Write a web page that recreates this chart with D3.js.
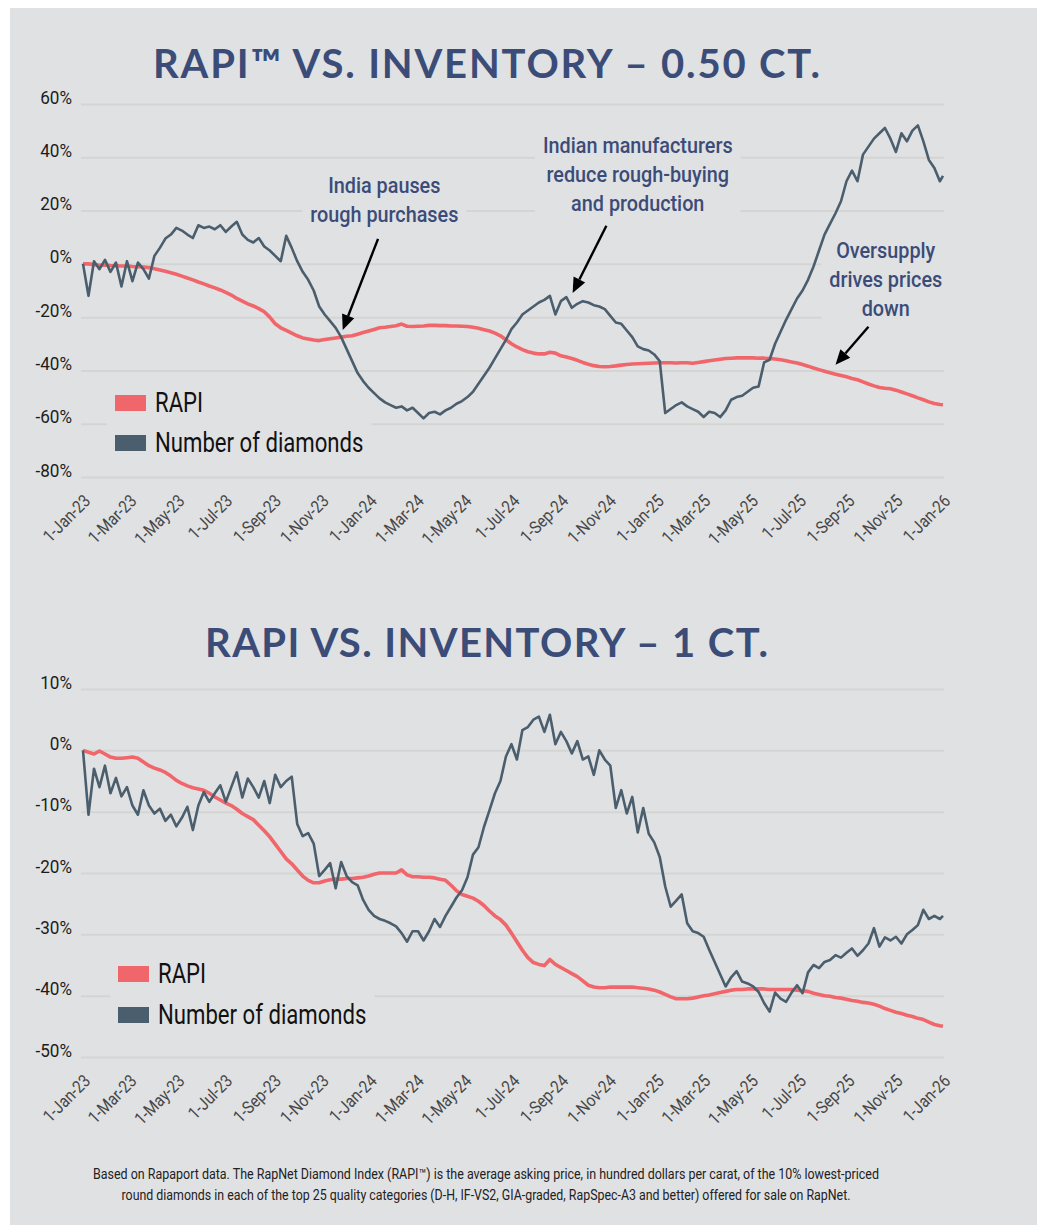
<!DOCTYPE html>
<html>
<head>
<meta charset="utf-8">
<title>RAPI vs. Inventory</title>
<script src="https://cdn.jsdelivr.net/npm/d3@7"></script>
<style>
  body { margin: 0; background: #fff; }
  .narrow { font-family: 'Roboto', 'Liberation Sans', sans-serif; }
  .title { font-family: 'Lato', 'Open Sans', sans-serif; font-weight: 700; fill: #3b4c78; }
  .note { fill: #3b4c78; font-weight: 500; }
</style>
</head>
<body>
<svg id="chart" width="1037" height="1225"></svg>
<script>
// weekly readings, 1-Jan-23 to 28-Dec-25, plus 1-Jan-26
var startDate = new Date(2023, 0, 1), endDate = new Date(2026, 0, 1);
var dates = d3.range(157).map(function(i) { return d3.timeDay.offset(startDate, i * 7); }).concat([endDate]);

// 0.50 ct, % change
var inv50 = [
  0, -12, 1, -2, 1.5, -3, 0.5, -8.5, 1, -6.5,
  0.5, -2, -5.5, 3, 6, 9.5, 11, 13.5, 12.5, 11,
  9.7, 14.5, 13.5, 14, 13, 14.5, 12, 14, 15.8, 11,
  9, 8, 9.7, 6.5, 5, 3, 1, 10.5, 6, 1,
  -3, -6, -10, -16, -19, -21.5, -24, -27.5, -32, -36.5,
  -41, -44, -46.5, -48.5, -50.5, -52, -53, -54, -53.5, -55,
  -54, -56, -58, -56, -55.5, -56.5, -55, -54, -52.5, -51.5,
  -50, -48, -45, -42, -39, -35.5, -32, -28.5, -24.5, -22,
  -19, -17.5, -16, -14.5, -13.5, -12, -19, -14, -12.5, -16.5,
  -15, -14, -14.5, -15.5, -16, -17, -19.5, -22, -22.5, -25,
  -27.5, -31, -32, -32.5, -34, -36.5, -56, -54.5, -53, -52,
  -53.5, -54.5, -55.5, -57.5, -55.5, -56, -57.5, -55, -51, -50,
  -49.5, -48, -46.5, -46, -37, -36, -30, -25.5, -21, -17,
  -13, -10, -6, -1, 5, 11, 15, 19, 23.5, 31,
  35, 31, 41, 44, 47, 49, 51, 47, 42, 49,
  46, 50, 52, 46, 39, 36, 31, 33
];
var rapi50 = [
  0, 0, -0.3, -0.5, -0.4, -0.6, -0.7, -0.8, -0.8, -1,
  -1.1, -1.2, -1.4, -1.8, -2.3, -2.8, -3.3, -3.9, -4.6, -5.3,
  -6, -6.8, -7.5, -8.3, -9, -9.8, -10.7, -11.7, -13, -14,
  -15, -15.8, -16.8, -18, -20, -22.5, -24, -25, -26, -27,
  -27.8, -28.2, -28.6, -28.8, -28.4, -28.1, -27.8, -27.5, -27.2, -27,
  -26.4, -25.8, -25.2, -24.6, -24, -23.8, -23.5, -23.2, -22.6, -23.4,
  -23.5, -23.4, -23.3, -23.1, -23.1, -23.2, -23.2, -23.3, -23.3, -23.4,
  -23.5, -23.8, -24.2, -24.7, -25.2, -26, -27, -28.5, -30, -31.2,
  -32.2, -33, -33.5, -33.8, -33.8, -33.2, -33.5, -34.5, -35, -35.5,
  -36.2, -37, -37.7, -38.2, -38.5, -38.6, -38.5, -38.3, -38, -37.8,
  -37.6, -37.5, -37.4, -37.3, -37.2, -37.1, -37.1, -37.1, -37.2, -37.1,
  -37.1, -37.3, -37, -36.7, -36.4, -36.1, -35.8, -35.5, -35.4, -35.3,
  -35.3, -35.3, -35.3, -35.4, -35.4, -35.5, -35.7, -36, -36.4, -36.8,
  -37.2, -37.8, -38.4, -39.1, -39.7, -40.3, -40.9, -41.4, -41.9, -42.4,
  -43, -43.5, -44.3, -45.1, -45.8, -46.4, -46.7, -46.9, -47.4, -48.1,
  -48.8, -49.5, -50.3, -51, -51.8, -52.4, -52.8, -52.9
];

// 1 ct, % change
var inv1 = [
  0, -10.5, -3, -6, -2.5, -7, -4.5, -7.5, -6, -9,
  -10.5, -6.5, -9, -10.3, -9.5, -11.5, -10.5, -12.4, -11, -9.2,
  -13, -9, -6.8, -8.4, -7, -5.7, -8.4, -6, -3.6, -7.7,
  -4.6, -6, -7.7, -5, -8.6, -4, -6, -5, -4.3, -12,
  -14, -13.5, -15.2, -20.5, -19.5, -18.4, -22.5, -18.2, -20.5, -21.5,
  -22, -24.4, -26, -27, -27.5, -27.8, -28.2, -28.7, -29.8, -31.2,
  -29.5, -29.5, -31, -29.5, -27.5, -28.8, -27, -25.5, -24, -22.8,
  -20.7, -17, -15.8, -12.5, -9.8, -7, -5, -1, 1, -1.5,
  3.3, 3.8, 5, 5.5, 3, 5.8, 1, 3, 1.5, -0.5,
  1.5, -1.5, -1, -4, 0, -1.5, -2.5, -9.4, -6.5, -10.3,
  -7.6, -13.4, -9.4, -13.6, -15, -17.4, -22.2, -25.5, -24.5, -23.5,
  -28.2, -29.5, -29.8, -30.4, -32.5, -34.5, -36.5, -38.5, -37, -36,
  -37.7, -38, -38.5, -39.4, -41.2, -42.6, -39.5, -40.5, -41, -39.5,
  -38.3, -39.6, -36.2, -35, -35.5, -34.5, -34.2, -33.4, -33.8, -33,
  -32.3, -33.5, -32.6, -31.5, -29, -32, -30.5, -31, -30.4, -31.5,
  -30, -29.3, -28.5, -26, -27.5, -27, -27.5, -27
];
var rapi1 = [
  0, -0.3, -0.6, -0.1, -0.6, -1.1, -1.3, -1.3, -1.2, -1.1,
  -1.3, -1.9, -2.5, -2.9, -3.2, -3.6, -4.2, -4.9, -5.4, -5.8,
  -6.1, -6.3, -6.5, -7, -7.6, -8.1, -8.6, -9, -9.6, -10.3,
  -10.8, -11.3, -12.2, -13.1, -14.1, -15.3, -16.5, -17.7, -18.5, -19.5,
  -20.5, -21.2, -21.6, -21.6, -21.3, -21.1, -21, -21, -20.9, -20.9,
  -20.8, -20.7, -20.5, -20.2, -20, -20, -20, -20, -19.5, -20.3,
  -20.6, -20.6, -20.7, -20.7, -20.8, -21, -21.2, -22, -22.9, -23.5,
  -23.8, -24.1, -24.6, -25.3, -26.2, -27, -27.6, -28.5, -29.8, -31.2,
  -32.6, -33.8, -34.6, -34.9, -35.1, -34.1, -34.9, -35.4, -35.9, -36.4,
  -36.9, -37.6, -38.3, -38.6, -38.7, -38.7, -38.6, -38.6, -38.6, -38.6,
  -38.6, -38.7, -38.8, -38.9, -39.1, -39.4, -39.8, -40.2, -40.5, -40.5,
  -40.5, -40.4, -40.2, -40, -39.9, -39.7, -39.5, -39.3, -39.1, -39,
  -39, -38.9, -38.9, -38.9, -38.9, -39, -39, -39, -39, -39,
  -39.1, -39.2, -39.3, -39.6, -39.8, -40, -40.1, -40.3, -40.4, -40.6,
  -40.8, -40.9, -41.1, -41.2, -41.4, -41.7, -42.1, -42.4, -42.7, -42.9,
  -43.2, -43.4, -43.7, -43.9, -44.3, -44.7, -44.9, -45
];

var yTicks50 = [60, 40, 20, 0, -20, -40, -60, -80];
var yTicks1 = [10, 0, -10, -20, -30, -40, -50];
var seriesNames = ["RAPI", "Number of diamonds"];

// annotations in data terms: [date, value]
var notes50 = [
  { lines: ["India pauses", "rough purchases"], at: ["2024-01-20", 26.6],
    from: ["2024-01-12", 9.4], to: ["2023-11-28", -24.8] },
  { lines: ["Indian manufacturers", "reduce rough-buying", "and production"], at: ["2024-12-08", 41.5],
    from: ["2024-10-29", 14.3], to: ["2024-09-16", -10.9] },
  { lines: ["Oversupply", "drives prices", "down"], at: ["2025-10-20", 2.1],
    from: ["2025-09-28", -23.6], to: ["2025-08-17", -37.9] }
];

var footer = [
  "Based on Rapaport data. The RapNet Diamond Index (RAPI\u2122) is the average asking price, in hundred dollars per carat, of the 10% lowest-priced",
  "round diamonds in each of the top 25 quality categories (D-H, IF-VS2, GIA-graded, RapSpec-A3 and better) offered for sale on RapNet."
];

var red = "#f1666b", slate = "#4a5e6d", bg = "#e0e1e3", grid = "#d4d5d3";

var svg = d3.select("#chart");
svg.append("rect").attr("x", 10).attr("y", 8).attr("width", 1027).attr("height", 1217).attr("fill", bg);

var parse = d3.timeParse("%Y-%m-%d");
var x = d3.scaleTime().domain([startDate, endDate]).range([83, 943]);

// the original uses a condensed face; squeeze the glyphs to get there
function squeeze(sel, f) {
  sel.each(function() {
    var w = this.getComputedTextLength();
    d3.select(this).attr("textLength", w * f).attr("lengthAdjust", "spacingAndGlyphs");
  });
}

function drawChart(opt) {
  var g = svg.append("g");
  var y = d3.scaleLinear().domain(opt.domain).range(opt.range);

  g.append("text").attr("class", "title")
    .attr("x", opt.titleX).attr("y", opt.titleY)
    .attr("font-size", 40)
    .attr("textLength", opt.titleW).attr("lengthAdjust", "spacing")
    .text(opt.title);

  // grid + y labels
  var ya = g.append("g").attr("transform", "translate(81,0)")
    .call(d3.axisLeft(y).tickValues(opt.ticks).tickSize(-863).tickFormat(function(d) { return d + "%"; }));
  ya.select(".domain").remove();
  ya.selectAll("line").attr("stroke", grid).attr("stroke-width", 2);
  ya.selectAll("text").attr("class", "narrow").attr("font-size", 18).attr("fill", "#1c1c1c")
    .attr("x", -9).attr("dy", "-0.05em");
  squeeze(ya.selectAll("text"), 0.95);

  // x labels
  var xa = g.append("g").attr("transform", "translate(0," + opt.range[0] + ")")
    .call(d3.axisBottom(x).ticks(d3.timeMonth.every(2)).tickSize(0).tickFormat(d3.timeFormat("%-d-%b-%y")));
  xa.select(".domain").remove();
  xa.selectAll("text").attr("class", "narrow").attr("font-size", 17.5).attr("fill", "#474747")
    .attr("y", 0).attr("dy", 0)
    .attr("transform", "translate(8,25) rotate(-45)")
    .style("text-anchor", "end");
  squeeze(xa.selectAll("text"), 0.86);

  // legend
  var lg = g.append("g");
  var items = lg.selectAll("g").data(seriesNames).enter().append("g")
    .attr("transform", function(d, i) { return "translate(" + opt.legendX + "," + (opt.legendY + i * opt.legendStep) + ")"; });
  items.append("rect").attr("width", 31).attr("height", 16).attr("y", -16)
    .attr("fill", function(d, i) { return i === 0 ? red : slate; });
  items.append("text").attr("class", "narrow").attr("x", 40).attr("y", 1)
    .attr("font-size", 27).attr("fill", "#111").text(function(d) { return d; });
  squeeze(items.selectAll("text"), 0.82);
  var lb = lg.node().getBBox();
  lg.insert("rect", ":first-child").attr("x", lb.x - 8).attr("y", lb.y - 6)
    .attr("width", lb.width + 16).attr("height", lb.height + 12).attr("fill", bg);

  // annotations
  (opt.notes || []).forEach(function(n) {
    var ng = g.append("g");
    n.lines.forEach(function(s, i) {
      ng.append("text").attr("class", "narrow note").attr("font-size", 22)
        .attr("text-anchor", "middle")
        .attr("x", x(parse(n.at[0]))).attr("y", y(n.at[1]) + i * 29).text(s);
    });
    squeeze(ng.selectAll("text"), 0.9);
    var b = ng.node().getBBox();
    ng.insert("rect", ":first-child").attr("x", b.x - 8).attr("y", b.y - 2)
      .attr("width", b.width + 16).attr("height", b.height + 4).attr("fill", bg);
  });

  var line = d3.line().x(function(d, i) { return x(dates[i]); }).y(function(d) { return y(d); });
  g.append("path").datum(opt.rapi).attr("d", line).attr("fill", "none")
    .attr("stroke", red).attr("stroke-width", 3.6).attr("stroke-linejoin", "round");
  g.append("path").datum(opt.inv).attr("d", line).attr("fill", "none")
    .attr("stroke", slate).attr("stroke-width", 2.6).attr("stroke-linejoin", "round");

  (opt.notes || []).forEach(function(n) {
    var x1 = x(parse(n.from[0])), y1 = y(n.from[1]), x2 = x(parse(n.to[0])), y2 = y(n.to[1]);
    var ang = Math.atan2(y2 - y1, x2 - x1), L = 15, W = 6.5;
    var bx = x2 - L * Math.cos(ang), by = y2 - L * Math.sin(ang);
    g.append("line").attr("x1", x1).attr("y1", y1).attr("x2", bx).attr("y2", by)
      .attr("stroke", "#000").attr("stroke-width", 2.4);
    g.append("path").attr("fill", "#000")
      .attr("d", "M" + x2 + "," + y2 + "L" + (bx + W * Math.sin(ang)) + "," + (by - W * Math.cos(ang)) +
        "L" + (bx - W * Math.sin(ang)) + "," + (by + W * Math.cos(ang)) + "Z");
  });
}

drawChart({
  title: "RAPI\u2122 VS. INVENTORY \u2013 0.50 CT.", titleX: 153, titleY: 78, titleW: 667,
  domain: [-80, 60], range: [477, 104], ticks: yTicks50,
  rapi: rapi50, inv: inv50, notes: notes50,
  legendX: 115, legendY: 411, legendStep: 40
});
drawChart({
  title: "RAPI VS. INVENTORY \u2013 1 CT.", titleX: 205, titleY: 657, titleW: 563,
  domain: [-50, 10], range: [1057, 689], ticks: yTicks1,
  rapi: rapi1, inv: inv1, notes: [],
  legendX: 118, legendY: 982, legendStep: 41
});

var footW = [786, 729];
footer.forEach(function(s, i) {
  svg.append("text").attr("class", "narrow").attr("font-size", 14.5).attr("fill", "#222")
    .attr("text-anchor", "middle").attr("x", 486).attr("y", 1179 + i * 21)
    .attr("textLength", footW[i]).attr("lengthAdjust", "spacingAndGlyphs")
    .text(s);
});
</script>
</body>
</html>
